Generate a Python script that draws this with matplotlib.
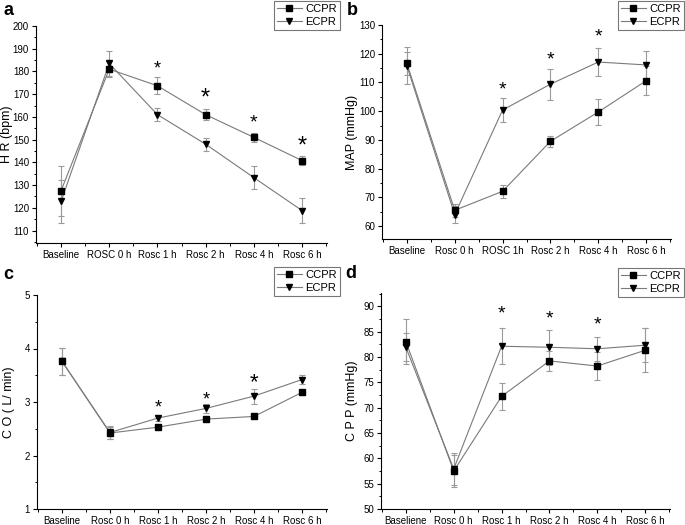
import matplotlib
matplotlib.use("Agg")
import matplotlib.pyplot as plt
from matplotlib.ticker import MultipleLocator, FixedLocator
from matplotlib.lines import Line2D
from matplotlib.transforms import blended_transform_factory

plt.rcParams['font.family'] = ['Liberation Sans', 'DejaVu Sans']

# ---------------- data ----------------
labels_a = ["Baseline", "ROSC 0 h", "Rosc 1 h", "Rosc 2 h", "Rosc 4 h", "Rosc 6 h"]
labels_b = ["Baseline", "Rosc 0 h", "ROSC 1h", "Rosc 2 h", "Rosc 4 h", "Rosc 6 h"]
labels_c = ["Baseline", "Rosc 0 h", "Rosc 1 h", "Rosc 2 h", "Rosc 4 h", "Rosc 6 h"]
labels_d = ["Baseliene", "Rosc 0 h", "Rosc 1 h", "Rosc 2 h", "Rosc 4 h", "Rosc 6 h"]

hr_ccpr = [127.5, 181.0, 173.7, 161.0, 151.0, 140.8]
hr_ccpr_err = [11.0, 3.5, 3.7, 2.5, 2.0, 2.0]
hr_ecpr = [122.8, 183.5, 161.0, 148.0, 133.3, 118.8]
hr_ecpr_err = [9.5, 5.5, 2.8, 2.8, 5.0, 5.5]
hr_star_x = [2, 3, 4, 5]
hr_star_y = [181.0, 168.0, 157.5, 147.0]

map_ccpr = [116.6, 65.5, 72.1, 89.5, 99.7, 110.6]
map_ccpr_err = [4.0, 2.2, 2.3, 2.0, 4.4, 5.0]
map_ecpr = [115.8, 64.0, 100.4, 109.4, 117.1, 116.1]
map_ecpr_err = [6.5, 3.0, 4.3, 5.4, 5.0, 5.0]
map_star_x = [2, 3, 4]
map_star_y = [107.5, 118.0, 125.7]

co_ccpr = [3.76, 2.42, 2.53, 2.68, 2.73, 3.18]
co_ccpr_err = [0.25, 0.12, 0.03, 0.03, 0.03, 0.04]
co_ecpr = [3.76, 2.43, 2.70, 2.88, 3.11, 3.42]
co_ecpr_err = [0.25, 0.12, 0.05, 0.08, 0.14, 0.08]
co_star_x = [2, 3, 4]
co_star_y = [2.88, 3.03, 3.36]

cpp_ccpr = [83.0, 57.5, 72.2, 79.2, 78.2, 81.3]
cpp_ccpr_err = [4.5, 3.2, 2.7, 2.0, 2.8, 4.3]
cpp_ecpr = [81.9, 57.9, 82.1, 81.9, 81.6, 82.3]
cpp_ecpr_err = [2.8, 3.2, 3.6, 3.5, 2.4, 3.3]
cpp_star_x = [2, 3, 4]
cpp_star_y = [88.4, 87.4, 86.2]

# ---------------- figure ----------------
W, H = 685, 525
fig = plt.figure(figsize=(W / 100, H / 100), dpi=100)


def px_axes(l, r, t, b):
    return fig.add_axes([l / W, 1 - b / H, (r - l) / W, (b - t) / H])


LINE_C = '#7a7a7a'
ERR_C = '#9a9a9a'


def panel(ax, labels, ccpr, ccpr_err, ecpr, ecpr_err, ylim, major, minor,
          ylabel, letter, star_x, star_y, star_sizes, leg_box, letter_pos, ylab_x):
    x = list(range(len(labels)))
    for vals, err, mk in [(ccpr, ccpr_err, 's'), (ecpr, ecpr_err, 'v')]:
        ax.errorbar(x, vals, yerr=err, fmt='none', ecolor=ERR_C, elinewidth=0.8,
                    capsize=2.2, capthick=0.8, zorder=2)
        ax.plot(x, vals, color=LINE_C, lw=0.8, zorder=3)
        ax.plot(x, vals, ls='none', marker=mk, ms=4.3, mfc='black', mec='black', zorder=4)
    for sx, sy, ss in zip(star_x, star_y, star_sizes):
        ax.text(sx, sy, '*', ha='center', va='center', fontsize=ss, color='black', zorder=5)
    ax.set_xlim(-0.52, 5.52)
    ax.set_ylim(*ylim)
    ax.set_xticks(x)
    ax.set_xticklabels(labels, fontsize=7)
    ax.xaxis.set_minor_locator(FixedLocator([-0.5, 0.5, 1.5, 2.5, 3.5, 4.5, 5.5]))
    ax.yaxis.set_major_locator(MultipleLocator(major))
    ax.yaxis.set_minor_locator(MultipleLocator(minor))
    ax.tick_params(axis='both', which='major', direction='out', length=3, width=0.8,
                   labelsize=7, pad=2, colors='black')
    ax.tick_params(axis='both', which='minor', direction='out', length=1.8, width=0.7)
    for s in ['top', 'right']:
        ax.spines[s].set_visible(False)
    for s in ['left', 'bottom']:
        ax.spines[s].set_linewidth(0.8)
    ax.set_ylabel(ylabel, fontsize=9, va='center')
    ax.yaxis.set_label_coords(ylab_x, 0.5,
                              transform=blended_transform_factory(fig.transFigure, ax.transAxes))
    fig.text(letter_pos[0] / W, 1 - letter_pos[1] / H, letter, fontsize=13,
             fontweight='bold', ha='left', va='top')
    handles = [Line2D([], [], color=LINE_C, lw=0.8, marker='s', ms=4, mfc='black', mec='black'),
               Line2D([], [], color=LINE_C, lw=0.8, marker='v', ms=4, mfc='black', mec='black')]
    l, t, r, b = leg_box
    leg = fig.legend(handles, ['CCPR', 'ECPR'], loc='upper right',
                     bbox_to_anchor=(r / W, 1 - t / H), fontsize=8, frameon=True,
                     fancybox=False, edgecolor='#555555', borderpad=0.3,
                     labelspacing=0.2, handlelength=2.2, handletextpad=0.3,
                     borderaxespad=0.0)
    leg.get_frame().set_linewidth(0.8)


ax_a = px_axes(36, 327, 26, 243)
panel(ax_a, labels_a, hr_ccpr, hr_ccpr_err, hr_ecpr, hr_ecpr_err, (104.5, 200), 10, 5,
      'H R (bpm)', 'a', hr_star_x, hr_star_y, [13, 17, 14, 17], (273, 1, 340, 31), (3, 2), 7.5 / W)

ax_b = px_axes(382, 671, 25, 239)
panel(ax_b, labels_b, map_ccpr, map_ccpr_err, map_ecpr, map_ecpr_err, (55.5, 130), 10, 5,
      'MAP (mmHg)', 'b', map_star_x, map_star_y, [14, 14, 14], (618, 1, 684, 30), (347, 2), 352 / W)

ax_c = px_axes(37, 327, 295, 509)
panel(ax_c, labels_c, co_ccpr, co_ccpr_err, co_ecpr, co_ecpr_err, (1, 5), 1, 0.5,
      'C O ( L/ min)', 'c', co_star_x, co_star_y, [13, 13, 16], (273, 267, 340, 296), (3, 266), 9 / W)

ax_d = px_axes(381, 670, 293, 509)
panel(ax_d, labels_d, cpp_ccpr, cpp_ccpr_err, cpp_ecpr, cpp_ecpr_err, (50, 92.6), 5, 2.5,
      'C P P (mmHg)', 'd', cpp_star_x, cpp_star_y, [14, 14, 14], (616, 268, 684, 296), (345, 265), 352 / W)

fig.savefig('out.png', dpi=100)
